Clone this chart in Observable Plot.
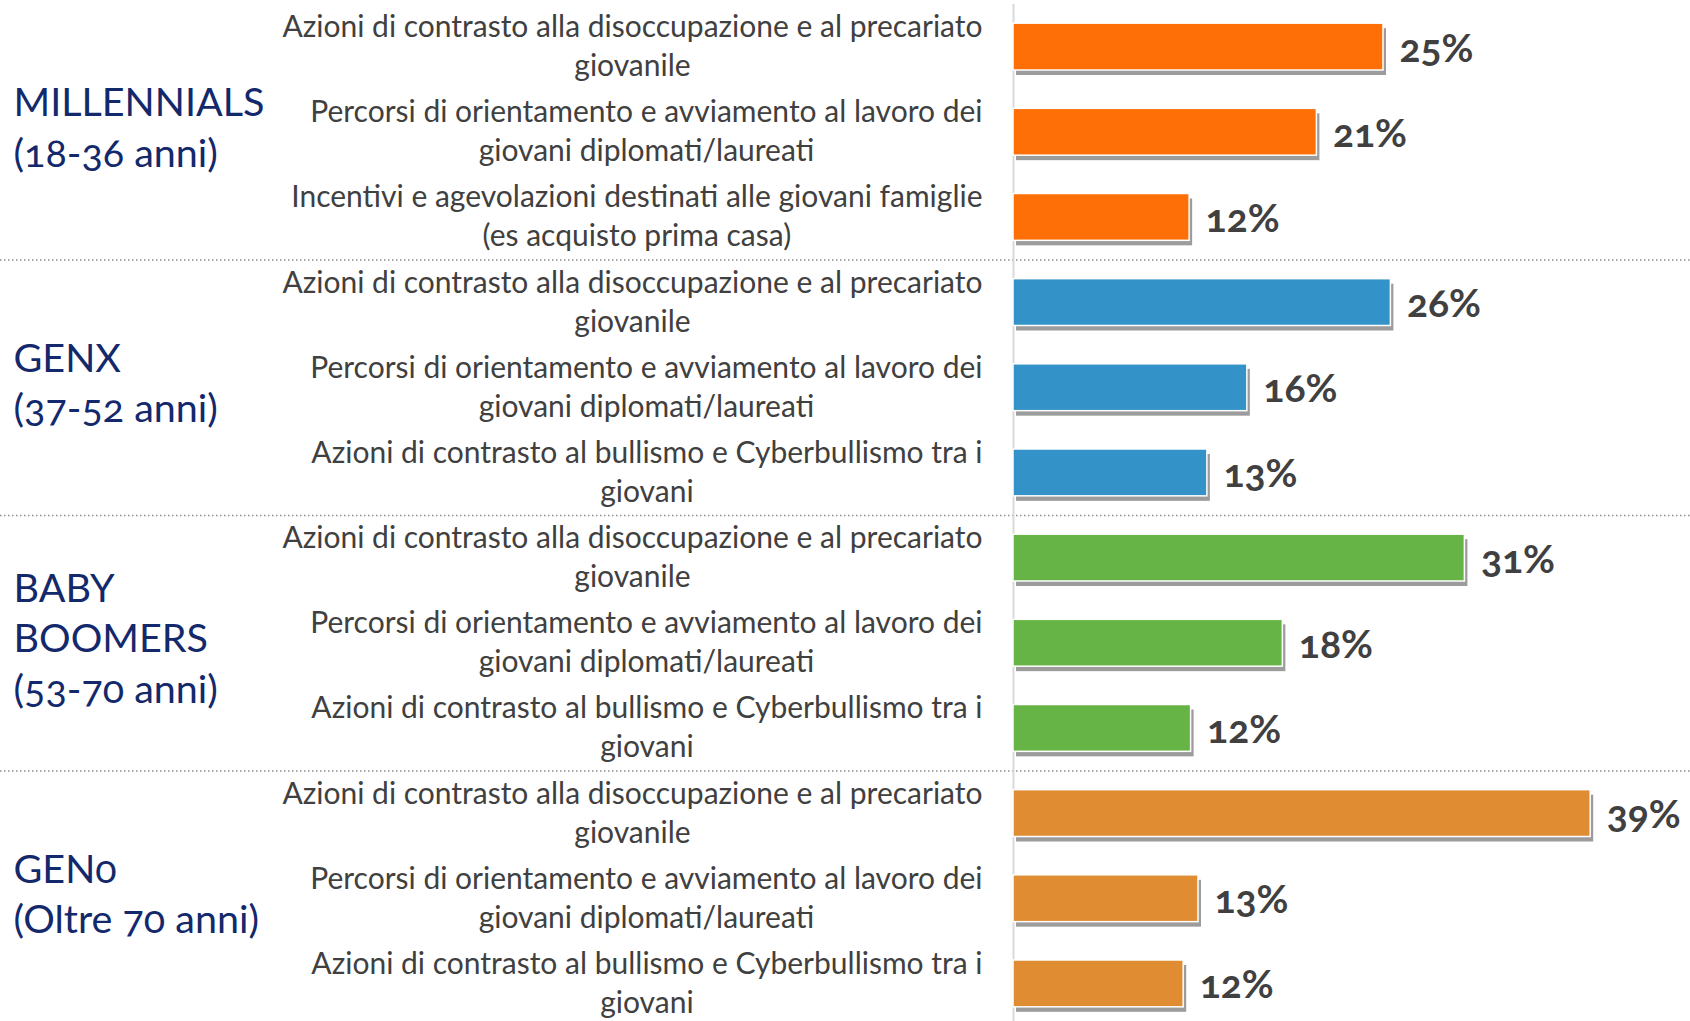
<!DOCTYPE html>
<html><head><meta charset="utf-8">
<script src="https://cdn.jsdelivr.net/npm/d3@7"></script>
<script src="https://cdn.jsdelivr.net/npm/@observablehq/plot@0.6"></script>
<style>
html,body{margin:0;padding:0;background:#fff;}
#chart svg{display:block;font-family:Lato,"Open Sans",sans-serif;font-variant-numeric:oldstyle-nums;}
</style></head><body><div id="chart"></div>
<script>
// ---- data ----
const groupNames = ["MILLENNIALS\n(18-36 anni)", "GENX\n(37-52 anni)", "BABY\nBOOMERS\n(53-70 anni)", "GEN0\n(Oltre 70 anni)"];
const groupColors = ["#FF6F07", "#3393C8", "#66B446", "#E08C33"];
const itemsMillennials = [
  "Azioni di contrasto alla disoccupazione e al precariato\ngiovanile",
  "Percorsi di orientamento e avviamento al lavoro dei\ngiovani diplomati/laureati",
  "Incentivi e agevolazioni destinati alle giovani famiglie\n(es acquisto prima casa)"
];
const itemsGenX = [
  "Azioni di contrasto alla disoccupazione e al precariato\ngiovanile",
  "Percorsi di orientamento e avviamento al lavoro dei\ngiovani diplomati/laureati",
  "Azioni di contrasto al bullismo e Cyberbullismo tra i\ngiovani"
];
const itemsBoomers = itemsGenX;
const itemsGen0 = itemsGenX;
// bar lengths (labels show them rounded)
const valuesMillennials = [25.0, 20.5, 11.9];
const valuesGenX = [25.5, 15.8, 13.1];
const valuesBoomers = [30.5, 18.2, 12.0];
const valuesGen0 = [39.0, 12.5, 11.5];

// ---- table ----
const groupItems = [itemsMillennials, itemsGenX, itemsBoomers, itemsGen0];
const groupValues = [valuesMillennials, valuesGenX, valuesBoomers, valuesGen0];
const rows = [];
groupNames.forEach((g, gi) => {
  groupItems[gi].forEach((label, i) => {
    rows.push({key: `${gi}-${i}`, group: g, label, value: groupValues[gi][i], idx: i});
  });
});
const keys = rows.map(r => r.key);

// ---- layout ----
const W = 1690, H = 1021;
const yRange = [4, 1026];
const step = (yRange[1] - yRange[0]) / keys.length;
const labelFont = 30;
const labelRight = 982;

const canvas = document.createElement("canvas");
const ctx = canvas.getContext("2d");
ctx.font = `${labelFont}px Lato`;
const distinctLabels = [...new Set(rows.map(r => r.label))];
const labelMarks = distinctLabels.map(L => {
  const maxW = d3.max(L.split("\n"), s => ctx.measureText(s).width);
  return Plot.text(rows.filter(r => r.label === L), {
    y: "key", text: "label", frameAnchor: "left", textAnchor: "middle",
    dx: labelRight - maxW / 2, dy: -3, fontSize: labelFont, lineHeight: 1.3, fill: "#404040"
  });
});

const groupLabelRows = rows.filter(r => r.idx === 1);
const sepRows = rows.filter(r => r.idx === 0 && r.key !== keys[0]);

const chart = Plot.plot({
  width: W, height: H,
  marginLeft: 0, marginRight: 0, marginTop: 4, marginBottom: 0,
  x: {domain: [0, 45], range: [1013, 1679], axis: null},
  y: {domain: keys, range: yRange, paddingInner: 0.45, paddingOuter: 0.225, round: false, axis: null},
  color: {domain: groupNames, range: groupColors},
  marks: [
    Plot.ruleY(sepRows, {y: "key", dy: -step / 2, stroke: "#8c8c8c", strokeWidth: 1.5, strokeDasharray: "1.5,2.5"}),
    Plot.ruleX([0], {stroke: "#d9d9d9", strokeWidth: 2}),
    Plot.barX(rows, {y: "key", x: "value", fill: "#3a3a3a", fillOpacity: 0.5, dx: 3, dy: 5, ariaLabel: "shadow"}),
    Plot.barX(rows, {y: "key", x: "value", fill: "group", stroke: "#ffffff", strokeWidth: 1.5}),
    Plot.text(rows, {y: "key", x: "value", text: d => Math.round(d.value) + "%", textAnchor: "start", dx: 16, dy: 2,
      fontSize: 39, fontWeight: "bold", fill: "#404040"}),
    ...labelMarks,
    Plot.text(groupLabelRows, {y: "key", text: "group", frameAnchor: "left", textAnchor: "start", dx: 13, dy: -7,
      fontSize: 39.5, lineHeight: 1.28, fill: "#13296B"})
  ]
});

// soft shadow filter
const svg = d3.select(chart);
svg.insert("defs", ":first-child").html(
  '<filter id="barshadow" x="-10%" y="-50%" width="120%" height="200%"><feGaussianBlur stdDeviation="2.5"/></filter>');
svg.select('g[aria-label="shadow"]').attr("filter", "url(#barshadow)");

document.getElementById("chart").appendChild(chart);
</script>
</body></html>
